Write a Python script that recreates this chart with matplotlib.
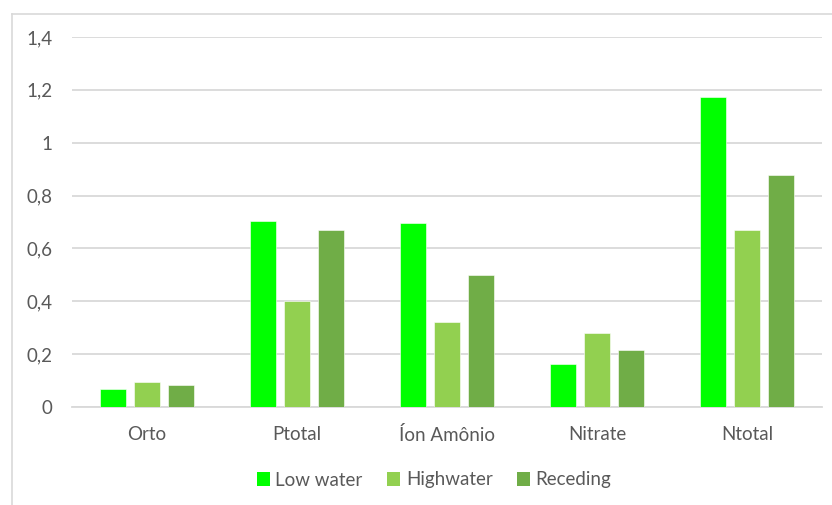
import matplotlib
matplotlib.use("Agg")
import matplotlib.pyplot as plt
import numpy as np
from matplotlib.lines import Line2D
from matplotlib.patches import Patch

categories = ["Orto", "Ptotal", "Íon Amônio", "Nitrate", "Ntotal"]
low_water = [0.07, 0.704, 0.697, 0.162, 1.173]
highwater = [0.096, 0.40, 0.32, 0.28, 0.671]
receding = [0.082, 0.671, 0.499, 0.215, 0.876]

series_names = ["Low water", "Highwater", "Receding"]
colors = ["#00FF00", "#92D050", "#70AD47"]
yticks = [0, 0.2, 0.4, 0.6, 0.8, 1.0, 1.2, 1.4]

text_color = "#595959"
grid_color = "#D9D9D9"
plt.rcParams["font.family"] = ["Lato", "DejaVu Sans"]

W, H = 832, 505
fig = plt.figure(figsize=(W / 100, H / 100), dpi=100)
ax = fig.add_axes([72 / W, 1 - 407 / H, 750 / W, 370 / H])

x = np.arange(len(categories))
width = 0.173
step = 0.227
for i, (vals, name, c) in enumerate(zip([low_water, highwater, receding], series_names, colors)):
    ax.bar(x + (i - 1) * step, vals, width, color=c, edgecolor="white",
           linewidth=0.4, label=name, zorder=3)

ax.set_xlim(-0.5, len(categories) - 0.5)
ax.set_ylim(0, 1.4)
ax.set_yticks(yticks)
ax.set_yticklabels([f"{v:g}".replace(".", ",") for v in yticks])
ax.set_xticks(x)
ax.set_xticklabels(categories)
ax.tick_params(axis="y", length=0, pad=14, labelsize=13.5, labelcolor=text_color)
ax.tick_params(axis="x", length=0, pad=14, labelsize=13.5, labelcolor=text_color)
ax.grid(axis="y", color=grid_color, linewidth=1.3, zorder=0)
for s in ["top", "right", "left"]:
    ax.spines[s].set_visible(False)
ax.spines["bottom"].set_color(grid_color)
ax.spines["bottom"].set_linewidth(1.3)

handles = [Patch(facecolor=c, edgecolor="none") for c in colors]
fig.legend(handles, series_names, loc="center", bbox_to_anchor=(434 / W, 1 - 480 / H),
           ncol=3, frameon=False, fontsize=13.5, labelcolor=text_color,
           handlelength=0.7, handleheight=0.7, handletextpad=0.3, columnspacing=1.3)

# chart area border (left and top edges)
fig.add_artist(Line2D([12 / W, 12 / W], [0, 1 - 14 / H], color=grid_color, linewidth=1.2))
fig.add_artist(Line2D([12 / W, 1], [1 - 14 / H, 1 - 14 / H], color=grid_color, linewidth=1.2))

fig.savefig("out.png", dpi=100, facecolor="white")
